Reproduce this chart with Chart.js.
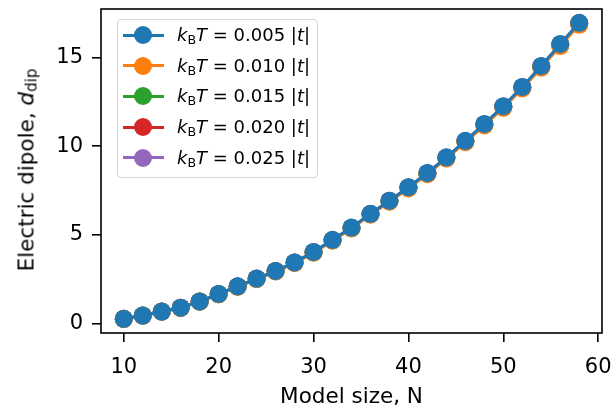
<!DOCTYPE html>
<html>
<head>
<meta charset="utf-8">
<script src="https://cdn.jsdelivr.net/npm/chart.js@4.4.1/dist/chart.umd.min.js"></script>
<style>
  html, body { margin: 0; padding: 0; background: #fff; }
  #wrap { position: relative; width: 613px; height: 420px; background: #fff; overflow: hidden; }
  #c { position: absolute; left: 0; top: 0; }
  #ytitle {
    position: absolute; left: 26px; top: 170px;
    transform: translate(-50%, -50%) rotate(-90deg);
    font-family: "DejaVu Sans", sans-serif; font-size: 21.5px; line-height: 25px;
    white-space: nowrap; color: #000;
  }
  #ytitle sub, #legend sub { font-size: 70%; vertical-align: -0.22em; line-height: 0; }
  #legend {
    position: absolute; left: 117px; top: 19px; width: 199px; height: 157px;
    border: 1.5px solid #d4d4d4; border-radius: 4px; background: rgba(255,255,255,0.8);
    font-family: "DejaVu Sans", sans-serif; font-size: 18px; color: #000;
  }
  .row { position: absolute; left: 0; height: 24px; width: 199px; }
  .ln { position: absolute; left: 5px; width: 41px; height: 3px; top: 10.5px; }
  .dot { position: absolute; left: 16px; width: 18px; height: 18px; top: 3px; border-radius: 50%; }
  .txt { position: absolute; left: 59px; top: 0; line-height: 24px; white-space: nowrap; }
  i { font-style: italic; }
</style>
</head>
<body>
<div id="wrap">
  <canvas id="c" width="613" height="420"></canvas>
  <div id="ytitle">Electric dipole, <i>d</i><sub>dip</sub></div>
  <div id="legend"></div>
</div>
<script>
// ---- data ----
const modelSize = [10,12,14,16,18,20,22,24,26,28,30,32,34,36,38,40,42,44,46,48,50,52,54,56,58];
const kBT = ['0.005','0.010','0.015','0.020','0.025'];
const dip005 = [0.27,0.45,0.68,0.90,1.25,1.67,2.10,2.54,2.97,3.45,4.04,4.72,5.41,6.19,6.93,7.69,8.49,9.37,10.30,11.25,12.25,13.34,14.52,15.76,16.95];
const dip010 = [0.27,0.45,0.67,0.89,1.24,1.65,2.08,2.51,2.94,3.42,4.00,4.68,5.36,6.14,6.87,7.62,8.42,9.30,10.22,11.17,12.16,13.25,14.42,15.64,16.84];
const dip015 = [0.27,0.45,0.67,0.89,1.24,1.66,2.09,2.52,2.95,3.43,4.01,4.69,5.38,6.16,6.89,7.65,8.45,9.33,10.25,11.20,12.20,13.29,14.46,15.69,16.89];
const dip020 = [0.27,0.45,0.68,0.90,1.24,1.66,2.09,2.53,2.96,3.44,4.02,4.70,5.39,6.17,6.91,7.67,8.47,9.35,10.27,11.22,12.22,13.31,14.49,15.72,16.92];
const dip025 = [0.27,0.45,0.68,0.90,1.25,1.67,2.10,2.54,2.96,3.44,4.03,4.71,5.40,6.18,6.92,7.68,8.48,9.36,10.29,11.24,12.24,13.33,14.51,15.74,16.94];
const xTicks = [10,20,30,40,50,60];
const yTicks = [0,5,10,15];
const xTitle = 'Model size, N';

const series = [dip005, dip010, dip015, dip020, dip025];
const colors = ['#1f77b4','#ff7f0e','#2ca02c','#d62728','#9467bd'];

const datasets = series.map((vals, k) => ({
  label: 'kBT = ' + kBT[k] + ' |t|',
  data: modelSize.map((x, i) => ({ x: x, y: vals[i] })),
  borderColor: colors[k],
  backgroundColor: colors[k],
  pointBackgroundColor: colors[k],
  pointBorderColor: colors[k],
  borderWidth: 3,
  pointRadius: 9,
  pointBorderWidth: 0,
  pointHoverRadius: 9,
  tension: 0,
  fill: false
}));

const frame = {
  id: 'frame',
  afterDraw(chart) {
    const a = chart.chartArea, ctx = chart.ctx;
    ctx.save();
    ctx.strokeStyle = '#000';
    ctx.lineWidth = 1.6;
    ctx.strokeRect(a.left, a.top, a.right - a.left, a.bottom - a.top);
    ctx.restore();
  }
};

function noPad(ax) { ax.paddingTop = 0; ax.paddingBottom = 0; ax.paddingLeft = 0; ax.paddingRight = 0; }

const tickFont = { family: 'DejaVu Sans', size: 21 };
new Chart(document.getElementById('c'), {
  type: 'line',
  data: { datasets },
  options: {
    responsive: false,
    animation: false,
    devicePixelRatio: 1,
    layout: { padding: { left: 0, top: 1, right: 11, bottom: 0 } },
    plugins: { legend: { display: false }, tooltip: { enabled: false } },
    scales: {
      x: {
        type: 'linear', min: 7.6, max: 60.4,
        afterBuildTicks: (ax) => { ax.ticks = xTicks.map(v => ({ value: v })); },
        afterFit: (ax) => { ax.height = 87; noPad(ax); },
        ticks: { font: tickFont, color: '#000', padding: 13, maxRotation: 0, autoSkip: false },
        grid: { drawOnChartArea: false, drawTicks: true, tickLength: 9, color: '#000', lineWidth: 1.6 },
        border: { display: false },
        title: { display: true, text: xTitle, color: '#000', font: { family: 'DejaVu Sans', size: 21.5 }, padding: { top: 0, bottom: 10 } }
      },
      y: {
        type: 'linear', min: -0.53, max: 17.73,
        afterBuildTicks: (ax) => { ax.ticks = yTicks.map(v => ({ value: v })); },
        afterFit: (ax) => { ax.width = 101; noPad(ax); },
        ticks: { font: tickFont, color: '#000', padding: 9 },
        grid: { drawOnChartArea: false, drawTicks: true, tickLength: 9, color: '#000', lineWidth: 1.6 },
        border: { display: false }
      }
    }
  },
  plugins: [frame]
});

// legend (HTML, real text)
const leg = document.getElementById('legend');
kBT.forEach((v, k) => {
  const row = document.createElement('div');
  row.className = 'row';
  row.style.top = (3 + 30.7 * k) + 'px';
  row.innerHTML = '<div class="ln" style="background:' + colors[k] + '"></div>' +
    '<div class="dot" style="background:' + colors[k] + '"></div>' +
    '<div class="txt"><i>k</i><sub>B</sub><i>T</i> = ' + v + ' |<i>t</i>|</div>';
  leg.appendChild(row);
});
</script>
</body>
</html>
